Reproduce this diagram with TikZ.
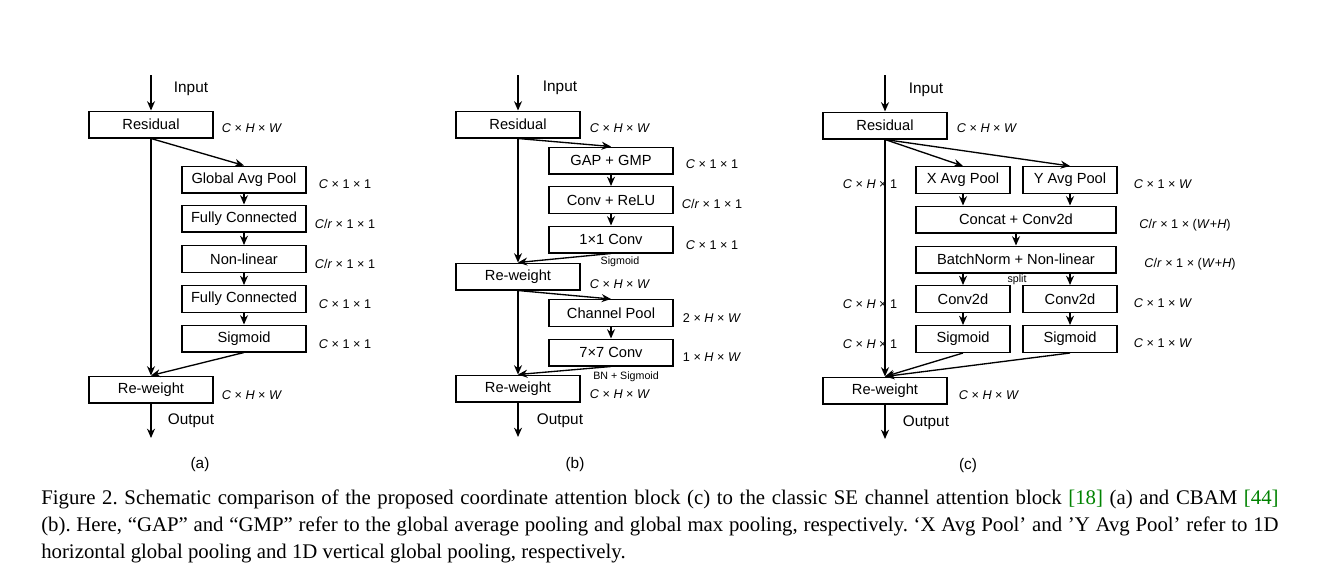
\documentclass[tikz,border=0pt]{standalone}
\usepackage{fontspec}
\setmainfont{Liberation Serif}
\newfontfamily\arialfont{Liberation Sans}
\usepackage{xcolor}
\definecolor{citegreen}{RGB}{0,130,0}
\usetikzlibrary{arrows.meta}
\tikzset{
  box/.style={draw, line width=1pt, minimum width=93pt, minimum height=20pt, inner sep=0pt, font=\arialfont\fontsize{11}{13}\selectfont},
  half/.style={box, minimum width=70.5pt},
  wide/.style={box, minimum width=150pt},
  dim/.style={font=\arialfont\fontsize{9.5}{11}\selectfont},
  tag/.style={font=\arialfont\fontsize{11.5}{13}\selectfont},
  note/.style={font=\arialfont\fontsize{8}{9}\selectfont},
  link/.style={line width=1pt, -{Stealth[length=7pt,width=6pt]}},
}
\newcommand{\chw}{\textit{C} × \textit{H} × \textit{W}}
\begin{document}
\begin{tikzpicture}[x=0.75pt,y=-0.75pt]
\useasboundingbox (0,0) rectangle (1334,587);

% (a) SE block
\coordinate (ain) at (151,75);
\node[box] (ares) at (151,124.5) {Residual};
\node[box] (agap) at (244,179.5) {Global Avg Pool};
\node[box] (afc1) at (244,218.5) {Fully Connected};
\node[box] (anl) at (244,259) {Non-linear};
\node[box] (afc2) at (244,299) {Fully Connected};
\node[box] (asig) at (244,338.5) {Sigmoid};
\node[box] (arw) at (151,389.5) {Re-weight};
\coordinate (aout) at (151,438);
\node[tag] (ainl) at (191,89) {Input};
\node[tag] (aoutl) at (191,421) {Output};
\node[dim] at (252,128) {\chw};
\node[dim] at (345,184) {\textit{C} × 1 × 1};
\node[dim] at (345,224) {\textit{C}/\textit{r} × 1 × 1};
\node[dim] at (345,264) {\textit{C}/\textit{r} × 1 × 1};
\node[dim] at (345,304) {\textit{C} × 1 × 1};
\node[dim] at (345,344) {\textit{C} × 1 × 1};
\node[dim] at (252,395) {\chw};
\node[tag] at (200,465) {(a)};
\draw[link] (ain) -- (ares);
\draw[link] (ares.south) -- (agap.north);
\draw[link] (agap) -- (afc1);
\draw[link] (afc1) -- (anl);
\draw[link] (anl) -- (afc2);
\draw[link] (afc2) -- (asig);
\draw[link] (ares.south) -- (arw.north);
\draw[link] (asig.south) -- (arw.north);
\draw[link] (arw) -- (aout);

% (b) CBAM
\coordinate (bin) at (518,75);
\node[box] (bres) at (518,124.5) {Residual};
\node[box] (bgap) at (611,160.5) {GAP + GMP};
\node[box] (bconv) at (611,200) {Conv + ReLU};
\node[box] (bone) at (611,239.5) {1×1 Conv};
\node[box] (brw1) at (518,276.5) {Re-weight};
\node[box] (bpool) at (611,313) {Channel Pool};
\node[box] (bseven) at (611,352.5) {7×7 Conv};
\node[box] (brw2) at (518,388.5) {Re-weight};
\coordinate (bout) at (518,437);
\node[tag] at (560,88) {Input};
\node[tag] at (560,421) {Output};
\node[dim] at (620,128) {\chw};
\node[dim] at (712,164) {\textit{C} × 1 × 1};
\node[dim] at (712,204) {\textit{C}/\textit{r} × 1 × 1};
\node[dim] at (712,245) {\textit{C} × 1 × 1};
\node[note] at (620,262) {Sigmoid};
\node[dim] at (620,284) {\chw};
\node[dim] at (712,318) {2 × \textit{H} × \textit{W}};
\node[dim] at (712,357) {1 × \textit{H} × \textit{W}};
\node[note] at (626,377) {BN + Sigmoid};
\node[dim] at (620,394) {\chw};
\node[tag] at (575,465) {(b)};
\draw[link] (bin) -- (bres);
\draw[link] (bres.south) -- (bgap.north);
\draw[link] (bgap) -- (bconv);
\draw[link] (bconv) -- (bone);
\draw[link] (bres.south) -- (brw1.north);
\draw[link] (bone.south) -- (brw1.north);
\draw[link] (brw1.south) -- (bpool.north);
\draw[link] (bpool) -- (bseven);
\draw[link] (brw1.south) -- (brw2.north);
\draw[link] (bseven.south) -- (brw2.north);
\draw[link] (brw2) -- (bout);

% (c) coordinate attention
\coordinate (cin) at (885,75);
\node[box] (cres) at (885,125.5) {Residual};
\node[half] (cxp) at (963,180) {X Avg Pool};
\node[half] (cyp) at (1070,180) {Y Avg Pool};
\node[wide] (ccat) at (1016,219.5) {Concat + Conv2d};
\node[wide] (cbn) at (1016,259.5) {BatchNorm + Non-linear};
\node[half] (cxc) at (963,299) {Conv2d};
\node[half] (cyc) at (1070,299) {Conv2d};
\node[half] (cxs) at (963,339) {Sigmoid};
\node[half] (cys) at (1070,339) {Sigmoid};
\node[box] (crw) at (885,390.5) {Re-weight};
\coordinate (cout) at (885,439);
\node[tag] at (926,90) {Input};
\node[tag] at (926,423) {Output};
\node[dim] at (987,128) {\chw};
\node[dim] at (870,184) {\textit{C} × \textit{H} × 1};
\node[dim] at (870,304) {\textit{C} × \textit{H} × 1};
\node[dim] at (870,344) {\textit{C} × \textit{H} × 1};
\node[dim] at (1163,184) {\textit{C} × 1 × \textit{W}};
\node[dim] at (1185,225) {\textit{C}/\textit{r} × 1 × (\textit{W}+\textit{H})};
\node[dim] at (1190,264) {\textit{C}/\textit{r} × 1 × (\textit{W}+\textit{H})};
\node[dim] at (1163,303) {\textit{C} × 1 × \textit{W}};
\node[dim] at (1163,343) {\textit{C} × 1 × \textit{W}};
\node[dim] at (989,395) {\chw};
\node[note] at (1017,280) {split};
\node[tag] at (968,466) {(c)};
\draw[link] (cin) -- (cres);
\draw[link] (cres.south) -- (cxp.north);
\draw[link] (cres.south) -- (cyp.north);
\draw[link] (cxp) -- (cxp |- ccat.north);
\draw[link] (cyp) -- (cyp |- ccat.north);
\draw[link] (ccat) -- (cbn);
\draw[link] (cxc |- cbn.south) -- (cxc);
\draw[link] (cyc |- cbn.south) -- (cyc);
\draw[link] (cxc) -- (cxs);
\draw[link] (cyc) -- (cys);
\draw[link] (cres.south) -- (crw.north);
\draw[link] (cxs.south) -- (crw.north);
\draw[link] (cys.south) -- (crw.north);
\draw[link] (crw) -- (cout);

% caption
\node[anchor=north west, inner sep=0pt, text width=928pt, align=justify,
  font=\fontsize{15.6}{20}\selectfont\frenchspacing] (cap) at (41,490)
  {Figure 2. Schematic comparison of the proposed coordinate attention block (c) to the classic SE channel attention block \textcolor{citegreen}{[18]} (a) and CBAM \textcolor{citegreen}{[44]} (b). Here, “GAP” and “GMP” refer to the global average pooling and global max pooling, respectively. ‘X Avg Pool’ and ’Y Avg Pool’ refer to 1D horizontal global pooling and 1D vertical global pooling, respectively.};
\end{tikzpicture}
\end{document}
